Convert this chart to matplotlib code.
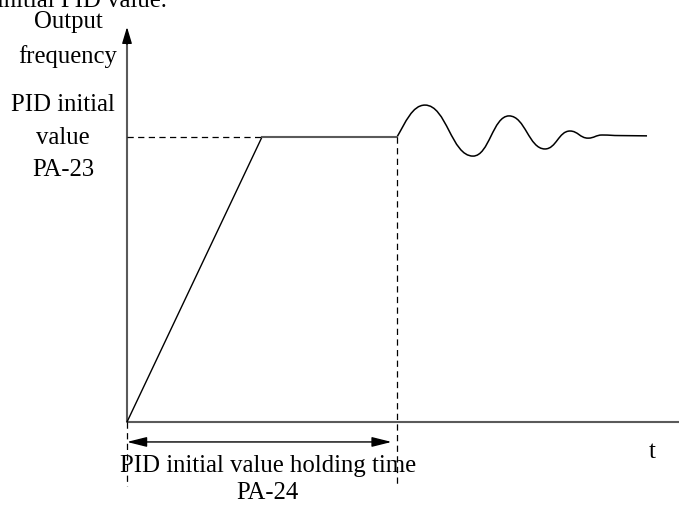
import numpy as np
import matplotlib.pyplot as plt
from matplotlib.path import Path
from matplotlib.patches import PathPatch

plt.rcParams['font.family'] = ['Liberation Serif', 'DejaVu Serif']

# ramp up to the PID initial value, then hold it
ramp_t = [0.0, 1.0, 2.0]
ramp_f = [0.0, 1.0, 1.0]

hold_end = 2.0
pid_level = 1.0

# extrema of the oscillation after the hold time (PID takes over)
osc_t = [2.0, 2.207, 2.563, 2.830, 3.096, 3.281, 3.415, 3.519, 3.652, 3.852]
osc_f = [1.0, 1.112, 0.933, 1.074, 0.958, 1.021, 0.996, 1.007, 1.005, 1.004]

y_label = ['Output', 'frequency']
level_label = ['PID initial', 'value', 'PA-23']
hold_label = ['PID initial value holding time', 'PA-24']

# figure: 683x505 px, origin of the chart at pixel (127, 422)
fig = plt.figure(figsize=(6.83, 5.05), dpi=100)
ax = fig.add_axes([0, 0, 1, 1])
px_t, px_f = 135.0, 285.0
ax.set_xlim(-127 / px_t, (683 - 127) / px_t)
ax.set_ylim(-(505 - 422) / px_f, 422 / px_f)
ax.axis('off')

axis_col = '#5a5a5a'
fs = 17.8

# axes with arrow heads
y_tip = (422 - 27) / px_f
x_tip = (690 - 127) / px_t
ax.plot([0, 0], [0, y_tip - 0.03], color=axis_col, lw=1.5, solid_capstyle='butt')
ax.plot([0, x_tip - 0.08], [0, 0], color=axis_col, lw=1.5, solid_capstyle='butt')
head = dict(arrowstyle='-|>,head_length=1.0,head_width=0.3', color='black',
            lw=1, shrinkA=0, shrinkB=0)
ax.annotate('', xy=(0, y_tip), xytext=(0, y_tip - 0.06), arrowprops=head)
ax.annotate('', xy=(x_tip, 0), xytext=(x_tip - 0.1, 0), arrowprops=head)

# ramp (black) and hold (gray)
ax.plot(ramp_t[:2], ramp_f[:2], color='black', lw=1.0)
ax.plot(ramp_t[1:], ramp_f[1:], color=axis_col, lw=1.5)

# dashed guides
dash = dict(color='black', lw=0.9, linestyle=(0, (5, 3.5)))
ax.plot([0, ramp_t[1]], [pid_level, pid_level], **dash)
ax.plot([hold_end, hold_end], [pid_level, -0.225], **dash)
ax.plot([0, 0], [0, -0.225], **dash)

# oscillation drawn as bezier curve with flat tangents at the extrema
verts = [(osc_t[0], osc_f[0])]
codes = [Path.MOVETO]
for i in range(len(osc_t) - 1):
    t0, f0 = osc_t[i], osc_f[i]
    t1, f1 = osc_t[i + 1], osc_f[i + 1]
    w = t1 - t0
    if i == 0:
        c1 = (t0 + 0.3 * w, f0 + 0.45 * (f1 - f0))
    else:
        c1 = (t0 + 0.45 * w, f0)
    c2 = (t1 - 0.45 * w, f1)
    verts += [c1, c2, (t1, f1)]
    codes += [Path.CURVE4] * 3
ax.add_patch(PathPatch(Path(verts, codes), fill=False, edgecolor='black', lw=1.1))

# holding time double arrow
ax.annotate('', xy=(0, -0.07), xytext=(1.96, -0.07),
            arrowprops=dict(arrowstyle='<|-|>,head_length=1.2,head_width=0.3',
                            color='black', lw=1, shrinkA=0, shrinkB=0))

# texts
ax.text(-0.963, 1.456, 'initial PID value.', fontsize=fs, ha='left', va='baseline')
ax.text(-0.437, 1.404, y_label[0], fontsize=fs, ha='center', va='center')
ax.text(-0.437, 1.284, y_label[1], fontsize=fs, ha='center', va='center')
for k, s in enumerate(level_label):
    ax.text(-0.474, 1.112 - k * 0.114, s, fontsize=fs, ha='center', va='center')
ax.text(1.044, -0.154, hold_label[0], fontsize=fs, ha='center', va='center')
ax.text(1.044, -0.249, hold_label[1], fontsize=fs, ha='center', va='center')
ax.text(3.889, -0.105, 't', fontsize=fs, ha='center', va='center')

fig.savefig('out.png', dpi=100)
